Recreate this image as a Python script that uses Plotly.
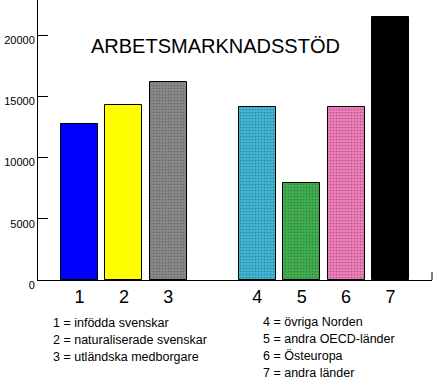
import plotly.graph_objects as go

# Data
categories = ["1", "2", "3", "4", "5", "6", "7"]
positions = [1, 2, 3, 5, 6, 7, 8]
values = [12700, 14300, 16150, 14100, 7900, 14100, 21450]
colors = ["#0000ff", "#ffff00", "#888888", "#3cb8d8", "#3cb04c", "#f47cbc", "#000000"]
pattern_fg = ["#0000ff", "#ffff00", "#808080", "#30a8e8", "#60c860", "#ff98cc", "#000000"]
ytick_vals = [0, 5000, 10000, 15000, 20000]
ytick_text = ["0", "5000", "10000", "15000", "20000"]
title_text = "ARBETSMARKNADSSTÖD"
legend_left = ["1 = infödda svenskar", "2 = naturaliserade svenskar", "3 = utländska medborgare"]
legend_right = ["4 = övriga Norden", "5 = andra OECD-länder", "6 = Östeuropa", "7 = andra länder"]

W, H = 433, 385
ML, MR, MT, MB = 38, 1, 0, 105
PH = H - MT - MB
PW = W - ML - MR

def px_to_paper(x, y):
    return (x - ML) / PW, (H - MB - y) / PH

fig = go.Figure()
fig.add_trace(go.Bar(
    x=positions, y=values, width=0.83,
    marker=dict(
        color=colors,
        line=dict(color="black", width=1),
        pattern=dict(shape=["", "", ".", ".", ".", ".", ""], fgcolor=pattern_fg,
                     size=3, solidity=0.25, fillmode="overlay"),
    ),
    showlegend=False,
))

font_family = "Liberation Sans, Arial, sans-serif"

annotations = []
tx, ty = px_to_paper(215, 46)
annotations.append(dict(text=title_text, x=tx, y=ty, xref="paper", yref="paper",
                        showarrow=False, xanchor="center", yanchor="middle",
                        font=dict(size=20, color="black", family=font_family)))
for i, t in enumerate(legend_left):
    ax, ay = px_to_paper(51, 323 + i * 17)
    annotations.append(dict(text=t, x=ax, y=ay, xref="paper", yref="paper",
                            showarrow=False, xanchor="left", yanchor="middle",
                            font=dict(size=12.5, color="black", family=font_family)))
for i, t in enumerate(legend_right):
    ax, ay = px_to_paper(261, 322 + i * 17)
    annotations.append(dict(text=t, x=ax, y=ay, xref="paper", yref="paper",
                            showarrow=False, xanchor="left", yanchor="middle",
                            font=dict(size=12.5, color="black", family=font_family)))

fig.update_layout(
    width=W, height=H,
    margin=dict(l=ML, r=MR, t=MT, b=MB, pad=0),
    paper_bgcolor="white", plot_bgcolor="white",
    bargap=0,
    annotations=annotations,
    shapes=[dict(type="line", xref="paper", yref="paper", x0=1, x1=1,
                 y0=0, y1=8 / PH, line=dict(color="black", width=1))],
    xaxis=dict(
        range=[0.066, 8.934], tickvals=positions, ticktext=categories,
        showline=True, linecolor="black", linewidth=1, ticks="",
        showgrid=False, zeroline=False,
        tickfont=dict(size=18, color="black", family=font_family),
    ),
    yaxis=dict(
        range=[0, 22860], tickvals=ytick_vals, ticktext=ytick_text,
        showline=True, linecolor="black", linewidth=1,
        ticks="inside", ticklen=10, tickcolor="black",
        showgrid=False, zeroline=False, ticklabelshift=5,
        tickfont=dict(size=11, color="black", family=font_family),
    ),
)

fig.write_html("out.html", config={"displayModeBar": False},
               post_script="document.body.style.margin='0';")
